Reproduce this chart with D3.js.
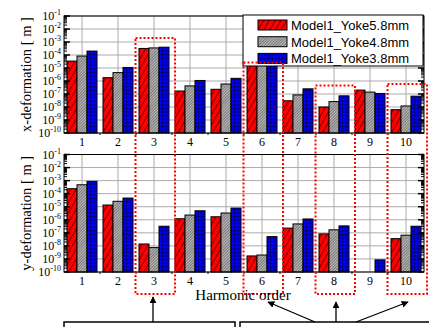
<!DOCTYPE html>
<html>
<head>
<meta charset="utf-8">
<script src="https://cdn.jsdelivr.net/npm/d3@7"></script>
<style>
  body { margin: 0; background: #fff; }
  svg { display: block; }
</style>
</head>
<body>
<svg id="chart" width="429" height="327"></svg>
<script>
// harmonic orders
const orders = [1, 2, 3, 4, 5, 6, 7, 8, 9, 10];
const series = ["Model1_Yoke5.8mm", "Model1_Yoke4.8mm", "Model1_Yoke3.8mm"];

// x-deformation [m]
const x_yoke58 = [3.4e-5, 1.8e-6, 3.2e-4, 1.7e-7, 2.3e-7, 2.5e-4, 3.0e-8, 1.0e-8, 2.0e-7, 6.2e-9];
const x_yoke48 = [8.3e-5, 4.4e-6, 3.5e-4, 4.2e-7, 5.9e-7, 3.0e-4, 8.5e-8, 2.6e-8, 1.4e-7, 1.2e-8];
const x_yoke38 = [2.0e-4, 1.1e-5, 4.0e-4, 1.1e-6, 1.6e-6, 3.5e-4, 2.5e-7, 7.2e-8, 1.1e-7, 6.8e-8];

// y-deformation [m]  (null = below 1e-10)
const y_yoke58 = [2.4e-4, 1.35e-5, 1.4e-8, 1.2e-6, 1.7e-6, 1.7e-9, 2.3e-7, 8.3e-8, null, 3.6e-8];
const y_yoke48 = [4.8e-4, 2.6e-5, 7.4e-9, 2.3e-6, 3.3e-6, 2.0e-9, 4.8e-7, 1.7e-7, null, 6.6e-8];
const y_yoke38 = [8.7e-4, 4.6e-5, 3.2e-7, 4.9e-6, 7.9e-6, 5.1e-8, 1.15e-6, 3.4e-7, 8.5e-10, 3.2e-7];

const exps = [-1, -2, -3, -4, -5, -6, -7, -8, -9, -10];
const highlighted = [3, 6, 8, 10];

const svg = d3.select("#chart");
const serif = "'Liberation Serif', 'Times New Roman', serif";
const sans = "'Liberation Sans', Arial, sans-serif";

// patterns
let defs = svg.append("defs");
let p1 = defs.append("pattern").attr("id", "pat_red").attr("patternUnits", "userSpaceOnUse")
  .attr("width", 5).attr("height", 5).attr("patternTransform", "rotate(30)");
p1.append("rect").attr("width", 5).attr("height", 5).attr("fill", "#ff0000");
p1.append("line").attr("x1", 0).attr("y1", 0).attr("x2", 0).attr("y2", 5).attr("stroke", "#000").attr("stroke-width", 1.1);

let p2 = defs.append("pattern").attr("id", "pat_grey").attr("patternUnits", "userSpaceOnUse")
  .attr("width", 2).attr("height", 2).attr("patternTransform", "rotate(45)");
p2.append("rect").attr("width", 2).attr("height", 2).attr("fill", "#bcbcbc");
p2.append("line").attr("x1", 0).attr("y1", 0).attr("x2", 0).attr("y2", 2).attr("stroke", "#222").attr("stroke-width", 0.9);

let p3 = defs.append("pattern").attr("id", "pat_blue").attr("patternUnits", "userSpaceOnUse")
  .attr("width", 3.6).attr("height", 3.6);
p3.append("rect").attr("width", 3.6).attr("height", 3.6).attr("fill", "#0000ff");
p3.append("path").attr("d", "M0,0H3.6M0,0V3.6").attr("stroke", "#000").attr("stroke-width", 0.8);

const fills = ["url(#pat_red)", "url(#pat_grey)", "url(#pat_blue)"];

let marker = defs.append("marker").attr("id", "arrow").attr("viewBox", "0 0 10 10")
  .attr("refX", 9).attr("refY", 5).attr("markerWidth", 7).attr("markerHeight", 7)
  .attr("markerUnits", "userSpaceOnUse").attr("orient", "auto");
marker.append("path").attr("d", "M0,0L10,5L0,10z").attr("fill", "#000");

const left = 64, right = 424;
const x = d3.scaleBand().domain(orders).range([left, right]);
const xs = d3.scaleBand().domain(series).range([3, x.bandwidth() - 3]);

function draw_panel(top, bottom, data, title){
  let y = d3.scaleLog().domain([1e-10, 1e-1]).range([bottom, top]);
  let g = svg.append("g");

  // grid
  g.selectAll(".hgrid").data(exps).enter().append("line")
    .attr("x1", left).attr("x2", right)
    .attr("y1", d => y(Math.pow(10, d))).attr("y2", d => y(Math.pow(10, d)))
    .attr("stroke", "#aaa").attr("stroke-width", 1);
  g.selectAll(".vgrid").data(orders).enter().append("line")
    .attr("x1", d => x(d) + x.bandwidth() / 2).attr("x2", d => x(d) + x.bandwidth() / 2)
    .attr("y1", top).attr("y2", bottom)
    .attr("stroke", "#aaa").attr("stroke-width", 1);

  // bars
  data.forEach((vals, si) => {
    g.selectAll(".bar" + si).data(orders).enter().append("rect")
      .filter((d, i) => vals[i] != null && vals[i] > 1e-10)
      .attr("x", d => x(d) + xs(series[si]))
      .attr("width", xs.bandwidth())
      .attr("y", d => y(vals[orders.indexOf(d)]))
      .attr("height", d => bottom - y(vals[orders.indexOf(d)]))
      .attr("fill", fills[si]).attr("stroke", "#000").attr("stroke-width", 1);
  });

  // frame
  g.append("rect").attr("x", left).attr("y", top).attr("width", right - left).attr("height", bottom - top)
    .attr("fill", "none").attr("stroke", "#000").attr("stroke-width", 1);

  // minor and major ticks, left and right
  let minors = [];
  exps.slice(1).forEach(e => { for(let k = 2; k <= 9; k++) minors.push(k * Math.pow(10, e)); });
  [left, right].forEach((ax, side) => {
    let dir = side == 0 ? 1 : -1;
    g.selectAll(".minor" + side).data(minors).enter().append("line")
      .attr("x1", ax).attr("x2", ax + dir * 3)
      .attr("y1", d => y(d)).attr("y2", d => y(d))
      .attr("stroke", "#000").attr("stroke-width", 1);
    g.selectAll(".major" + side).data(exps).enter().append("line")
      .attr("x1", ax).attr("x2", ax + dir * 6)
      .attr("y1", d => y(Math.pow(10, d))).attr("y2", d => y(Math.pow(10, d)))
      .attr("stroke", "#000").attr("stroke-width", 1.5);
  });

  // bottom boundary ticks
  g.selectAll(".btick").data(orders.slice(1)).enter().append("line")
    .attr("x1", d => x(d)).attr("x2", d => x(d)).attr("y1", bottom).attr("y2", bottom + 2)
    .attr("stroke", "#000").attr("stroke-width", 1);

  // y tick labels
  let lab = g.selectAll(".ylab").data(exps).enter().append("text")
    .attr("x", left - 3).attr("y", d => y(Math.pow(10, d)) + 4)
    .attr("text-anchor", "end").attr("font-family", serif).attr("font-size", 12).attr("fill", "#000");
  lab.append("tspan").text("10");
  lab.append("tspan").attr("dy", -5).attr("font-size", 8).text(d => d);

  // x tick labels
  g.selectAll(".xlab").data(orders).enter().append("text")
    .attr("x", d => x(d) + x.bandwidth() / 2).attr("y", bottom + 13)
    .attr("text-anchor", "middle").attr("font-family", serif).attr("font-size", 12).attr("fill", "#000")
    .text(d => d);

  // axis title
  g.append("text").attr("transform", "translate(" + 31 + "," + ((top + bottom) / 2) + ") rotate(-90)")
    .attr("text-anchor", "middle").attr("font-family", serif).attr("font-size", 14.5).attr("fill", "#000")
    .text(title);
  return y;
}

draw_panel(16, 133, [x_yoke58, x_yoke48, x_yoke38], "x-deformation [ m ]");
draw_panel(154.5, 272, [y_yoke58, y_yoke48, y_yoke38], "y-deformation [ m ]");

// legend
let lg = svg.append("g").attr("transform", "translate(243,15)");
lg.append("rect").attr("width", 180).attr("height", 51).attr("fill", "#fff").attr("stroke", "#000").attr("stroke-width", 1);
series.forEach((s, i) => {
  lg.append("rect").attr("x", 15).attr("y", 5 + i * 16.7).attr("width", 29).attr("height", 10)
    .attr("fill", fills[i]).attr("stroke", "#000").attr("stroke-width", 1);
  lg.append("text").attr("x", 48).attr("y", 15 + i * 16.7)
    .attr("font-family", sans).attr("font-size", 13).attr("fill", "#000").text(s);
});

// highlight boxes
const box_top = {3: 38, 6: 62.5, 8: 85.5, 10: 84};
highlighted.forEach(h => {
  let x0 = x(h) - 0.5, x1 = x(h) + x.bandwidth() + 3;
  svg.append("rect").attr("x", x0).attr("y", box_top[h]).attr("width", x1 - x0).attr("height", 294 - box_top[h])
    .attr("fill", "none").attr("stroke", "#ff0000").attr("stroke-width", 2).attr("stroke-dasharray", "2,2");
});

// x title (drawn over boxes)
svg.append("text").attr("x", 243).attr("y", 300).attr("text-anchor", "middle")
  .attr("font-family", serif).attr("font-size", 15).attr("fill", "#000").text("Harmonic order");

// bottom annotation boxes and arrows
svg.append("rect").attr("x", 64).attr("y", 322).attr("width", 171).attr("height", 20)
  .attr("fill", "none").attr("stroke", "#000").attr("stroke-width", 1.5);
svg.append("rect").attr("x", 240).attr("y", 322).attr("width", 200).attr("height", 20)
  .attr("fill", "none").attr("stroke", "#000").attr("stroke-width", 1.5);
const arrows = [[153, 322, 153, 297], [315, 322, 268, 302], [336, 322, 336, 302], [356, 322, 408, 302]];
svg.selectAll(".arrow").data(arrows).enter().append("line")
  .attr("x1", d => d[0]).attr("y1", d => d[1]).attr("x2", d => d[2]).attr("y2", d => d[3])
  .attr("stroke", "#000").attr("stroke-width", 1.3).attr("marker-end", "url(#arrow)");
</script>
</body>
</html>
